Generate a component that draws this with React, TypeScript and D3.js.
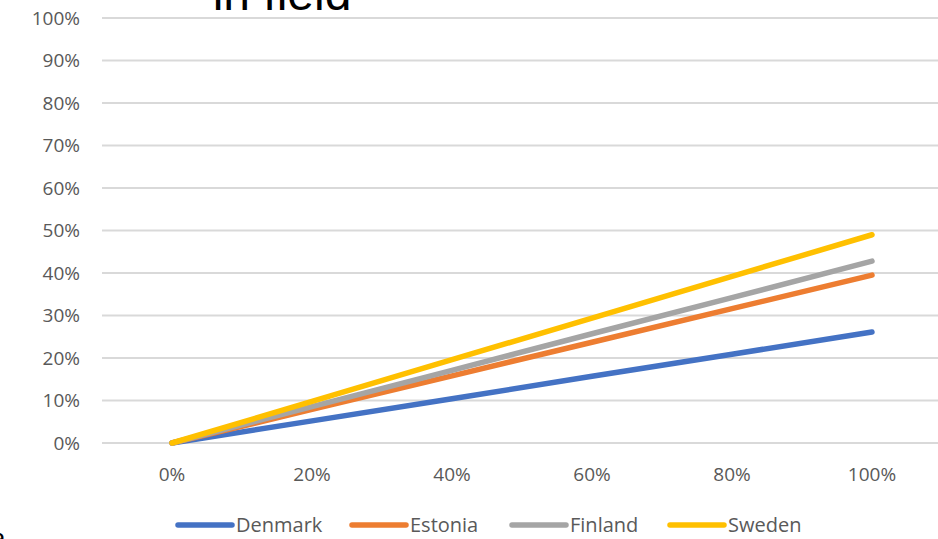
import React from "react";
import * as d3 from "d3";

const categories = ["0%", "20%", "40%", "60%", "80%", "100%"];
const yTicks = [0, 0.1, 0.2, 0.3, 0.4, 0.5, 0.6, 0.7, 0.8, 0.9, 1.0];
const seriesNames = ["Denmark", "Estonia", "Finland", "Sweden"];
const seriesColors = ["#4472C4", "#ED7D31", "#A5A5A5", "#FFC000"];
const denmark = [0, 0.052, 0.104, 0.157, 0.209, 0.261];
const estonia = [0, 0.079, 0.158, 0.237, 0.316, 0.395];
const finland = [0, 0.0855, 0.171, 0.257, 0.342, 0.428];
const sweden = [0, 0.098, 0.196, 0.294, 0.392, 0.49];
const seriesValues = [denmark, estonia, finland, sweden];

const W = 938;
const H = 539;
const plotLeft = 102;
const plotRight = 942;
const plotTop = 18;
const plotBottom = 443;

export default function App() {
  const x = d3.scaleBand<string>().domain(categories).range([plotLeft, plotRight]);
  const y = d3.scaleLinear().domain([0, 1]).range([plotBottom, plotTop]);
  const line = d3
    .line<number>()
    .x((_, i) => (x(categories[i]) as number) + x.bandwidth() / 2)
    .y((d) => y(d));
  const fmt = d3.format(".0%");
  const font = "'Open Sans', 'Liberation Sans', Arial, sans-serif";

  const legendX = [178, 352, 512, 670];

  return (
    <svg
      width={W}
      height={H}
      style={{ position: "absolute", left: 0, top: 0, background: "#fff" }}
      fontFamily={font}
    >
      <rect x={0} y={0} width={W} height={H} fill="#fff" />
      <text
        x={282}
        y={10}
        textAnchor="middle"
        fontSize={48}
        fill="#000"
        fontFamily="'Liberation Sans', Arial, sans-serif"
      >
        in field
      </text>
      {yTicks.map((t) => (
        <g key={t}>
          <line x1={plotLeft} x2={W} y1={y(t)} y2={y(t)} stroke="#D9D9D9" strokeWidth={2} />
          <text x={80} y={y(t)} dy="0.35em" textAnchor="end" fontSize={19} fill="#595959">
            {fmt(t)}
          </text>
        </g>
      ))}
      {categories.map((c) => (
        <text
          key={c}
          x={(x(c) as number) + x.bandwidth() / 2}
          y={481}
          textAnchor="middle"
          fontSize={19}
          fill="#595959"
        >
          {c}
        </text>
      ))}
      {seriesValues.map((vals, i) => (
        <path
          key={seriesNames[i]}
          d={line(vals) as string}
          fill="none"
          stroke={seriesColors[i]}
          strokeWidth={5.5}
          strokeLinecap="round"
          strokeLinejoin="round"
        />
      ))}
      {seriesNames.map((n, i) => (
        <g key={n}>
          <line
            x1={legendX[i]}
            x2={legendX[i] + 54}
            y1={525}
            y2={525}
            stroke={seriesColors[i]}
            strokeWidth={5.5}
            strokeLinecap="round"
          />
          <text x={legendX[i] + 58} y={525} dy="0.35em" fontSize={20} fill="#595959">
            {n}
          </text>
        </g>
      ))}
      <text x={-9} y={547} fontSize={26} fill="#000" fontFamily="'Liberation Sans', Arial, sans-serif">
        a
      </text>
    </svg>
  );
}
